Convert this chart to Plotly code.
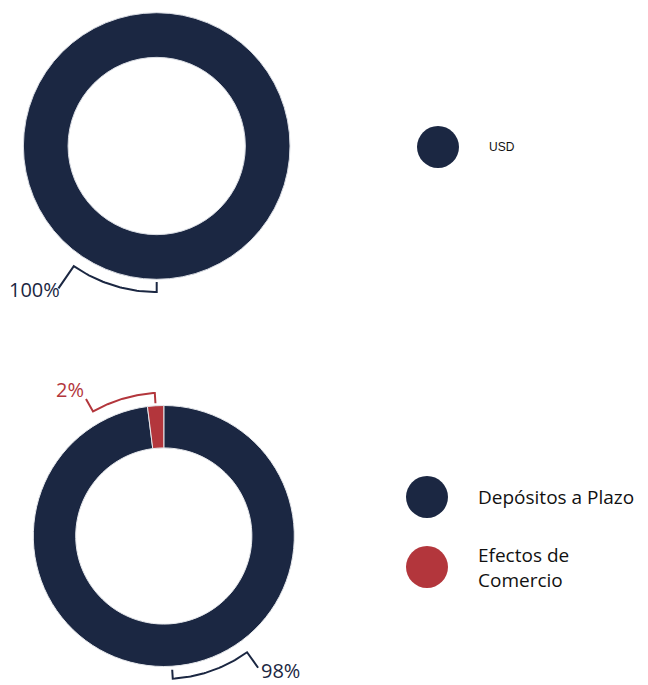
import math
import plotly.graph_objects as go

# ---- data ----
chart1_labels = ["USD"]
chart1_values = [100]
chart2_labels = ["Depósitos a Plazo", "Efectos de<br>Comercio"]
chart2_values = [98, 2]

NAVY = "#1b2742"
RED = "#b3363c"
W, H = 648, 685

fig = go.Figure()

# pies: (center x, center y, radius) in pixels
def dom(cx, cy, r):
    return dict(x=[(cx - r) / W, (cx + r) / W], y=[1 - (cy + r) / H, 1 - (cy - r) / H])

P1 = (156.7, 146, 133.3)
P2 = (163.8, 536, 130.5)

fig.add_trace(go.Pie(labels=chart1_labels, values=chart1_values, hole=0.665, sort=False,
                     direction="clockwise", rotation=0, textinfo="none", hoverinfo="label+percent",
                     marker=dict(colors=[NAVY], line=dict(color="#d9dce3", width=1)),
                     domain=dom(*P1), showlegend=False))
fig.add_trace(go.Pie(labels=chart2_labels, values=chart2_values, hole=0.675, sort=False,
                     direction="clockwise", rotation=0, textinfo="none", hoverinfo="label+percent",
                     marker=dict(colors=[NAVY, RED], line=dict(color="#e6e8ec", width=1)),
                     domain=dom(*P2), showlegend=False))

# callouts computed from the slice angles
def pt(c, r, th):
    t = math.radians(th)
    return c[0] + r * math.sin(t), c[1] - r * math.cos(t)

annotations = []
def callout(center, values, idx, color, span, r_in, r_arc, r_lead, xanchor, yanchor, xs, ys):
    total = sum(values)
    start = sum(values[:idx]) / total * 360
    mid = start + values[idx] / total * 360 / 2
    pct = round(values[idx] / total * 100)
    xs_, ys_ = [], []
    x, y = pt(center, r_in, mid); xs_.append(x); ys_.append(y)
    n = 40
    for k in range(n + 1):
        th = mid + span * k / n
        x, y = pt(center, r_arc, th); xs_.append(x); ys_.append(y)
    xe, ye = pt(center, r_lead, mid + span)
    xs_.append(xe); ys_.append(ye)
    fig.add_trace(go.Scatter(x=xs_, y=ys_, mode="lines", line=dict(color=color, width=2),
                             hoverinfo="skip", showlegend=False, xaxis="x", yaxis="y"))
    annotations.append(dict(x=xe, y=ye, xref="x", yref="y", text=f"{pct}%", showarrow=False,
                            xanchor=xanchor, yanchor=yanchor, xshift=xs, yshift=ys, borderpad=0,
                            font=dict(family="Open Sans", size=20, color=color)))

callout(P1[:2], chart1_values, 0, NAVY, 34.6, 136, 146, 173, "right", "middle", 3, -1)
callout(P2[:2], chart2_values, 1, RED, -26, 133, 143.3, 157.5, "right", "middle", -1, 10)
callout(P2[:2], chart2_values, 0, NAVY, -32, 134, 143, 162, "left", "middle", 2, -3)

# custom legends
leg_items = [
    (438, 147, NAVY, chart1_labels[0], 487, 12, "Liberation Sans"),
    (427, 497, NAVY, chart2_labels[0], 476, 19, "Open Sans"),
    (427, 567, RED, chart2_labels[1], 476, 19, "Open Sans"),
]
for cx, cy, col, lab, tx, fs, fam in leg_items:
    fig.add_trace(go.Scatter(x=[cx], y=[cy], mode="markers",
                             marker=dict(size=42, color=col, line=dict(width=0)),
                             hoverinfo="skip", showlegend=False, xaxis="x", yaxis="y"))
    annotations.append(dict(x=tx, y=cy, xref="x", yref="y", text=lab, showarrow=False,
                            xanchor="left", yanchor="middle", align="left",
                            font=dict(family=fam, size=fs, color="#111111")))

fig.update_layout(
    width=W, height=H, margin=dict(l=0, r=0, t=0, b=0),
    paper_bgcolor="white", plot_bgcolor="white",
    xaxis=dict(range=[0, W], visible=False, fixedrange=True, domain=[0, 1]),
    yaxis=dict(range=[H, 0], visible=False, fixedrange=True, domain=[0, 1]),
    annotations=annotations, showlegend=False,
)
fig.write_html("out.html", config={"displayModeBar": False},
               post_script="document.body.style.margin='0px';document.body.style.overflow='hidden';")
